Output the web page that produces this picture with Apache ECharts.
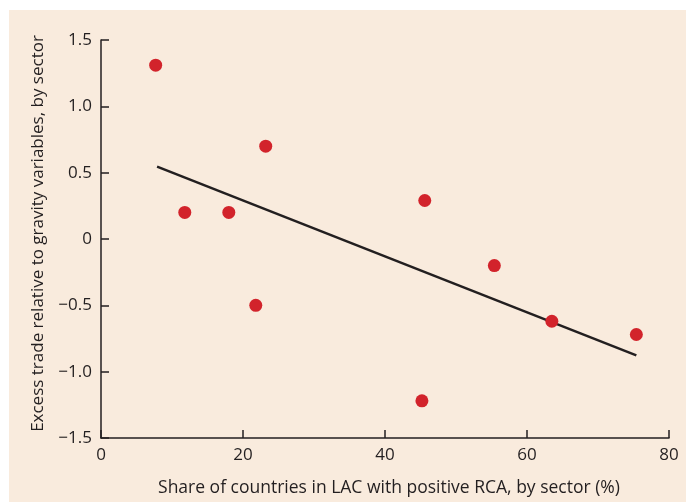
<!DOCTYPE html>
<html>
<head>
<meta charset="utf-8">
<style>
  html, body { margin: 0; padding: 0; background: #ffffff; }
  #chart { width: 686px; height: 502px; }
</style>
<script src="https://cdn.jsdelivr.net/npm/echarts@6/dist/echarts.min.js"></script>
</head>
<body>
<div id="chart"></div>
<script>
// Sectors: share of LAC countries with positive RCA (%) vs. excess trade
const shareRCA = [7.7, 11.8, 18.0, 23.2, 21.8, 45.6, 55.4, 63.5, 75.4, 45.2];
const excessTrade = [1.31, 0.20, 0.20, 0.70, -0.50, 0.29, -0.20, -0.62, -0.72, -1.22];

// Fitted linear trend, endpoints
const trendX = [7.9, 75.4];
const trendY = [0.546, -0.877];

const xTickLabels = ['0', '20', '40', '60', '80'];
const yTickLabels = ['\u22121.5', '\u22121.0', '\u22120.5', '0', '0.5', '1.0', '1.5'];

const textColor = '#231f20';
const fontFamily = '"Open Sans", "Noto Sans", sans-serif';

const chart = echarts.init(document.getElementById('chart'), null, { renderer: 'canvas' });

const points = shareRCA.map((x, i) => [x, excessTrade[i]]);
const trend = trendX.map((x, i) => [x, trendY[i]]);

chart.setOption({
  backgroundColor: '#ffffff',
  animation: false,
  graphic: [{
    type: 'rect',
    z: -10,
    silent: true,
    shape: { x: 9, y: 10, width: 677, height: 492 },
    style: { fill: '#f9ebdd' }
  }],
  grid: { left: 101, right: 17, top: 40, bottom: 64, containLabel: false },
  xAxis: {
    type: 'value',
    min: 0, max: 80, interval: 20,
    name: 'Share of countries in LAC with positive RCA, by sector (%)',
    nameLocation: 'middle',
    nameGap: 41,
    nameTextStyle: { color: textColor, fontSize: 17.5, fontFamily: fontFamily, padding: [0, 0, 0, 8] },
    axisLine: { show: true, onZero: false, lineStyle: { color: textColor, width: 1.5 } },
    axisTick: { show: true, inside: true, length: 8, lineStyle: { color: textColor, width: 1.5 } },
    axisLabel: {
      color: textColor, fontSize: 17, fontFamily: fontFamily, margin: 9,
      formatter: (v) => xTickLabels[Math.round(v / 20)]
    },
    splitLine: { show: false }
  },
  yAxis: {
    type: 'value',
    min: -1.5, max: 1.5, interval: 0.5,
    name: 'Excess trade relative to gravity variables, by sector',
    nameLocation: 'middle',
    nameGap: 54,
    nameRotate: 90,
    nameTextStyle: { color: textColor, fontSize: 17, fontFamily: fontFamily, padding: [0, 0, 0, 11] },
    axisLine: { show: true, onZero: false, lineStyle: { color: textColor, width: 1.5 } },
    axisTick: { show: true, inside: true, length: 8, lineStyle: { color: textColor, width: 1.5 } },
    axisLabel: {
      color: textColor, fontSize: 17, fontFamily: fontFamily, margin: 9,
      formatter: (v) => yTickLabels[Math.round((v + 1.5) / 0.5)]
    },
    splitLine: { show: false }
  },
  series: [
    {
      type: 'line',
      data: trend,
      symbol: 'none',
      lineStyle: { color: textColor, width: 2.5 },
      z: 2
    },
    {
      type: 'scatter',
      data: points,
      symbol: 'circle',
      symbolSize: 13,
      itemStyle: { color: '#d2232b', opacity: 1 },
      z: 3
    }
  ]
});
</script>
</body>
</html>
